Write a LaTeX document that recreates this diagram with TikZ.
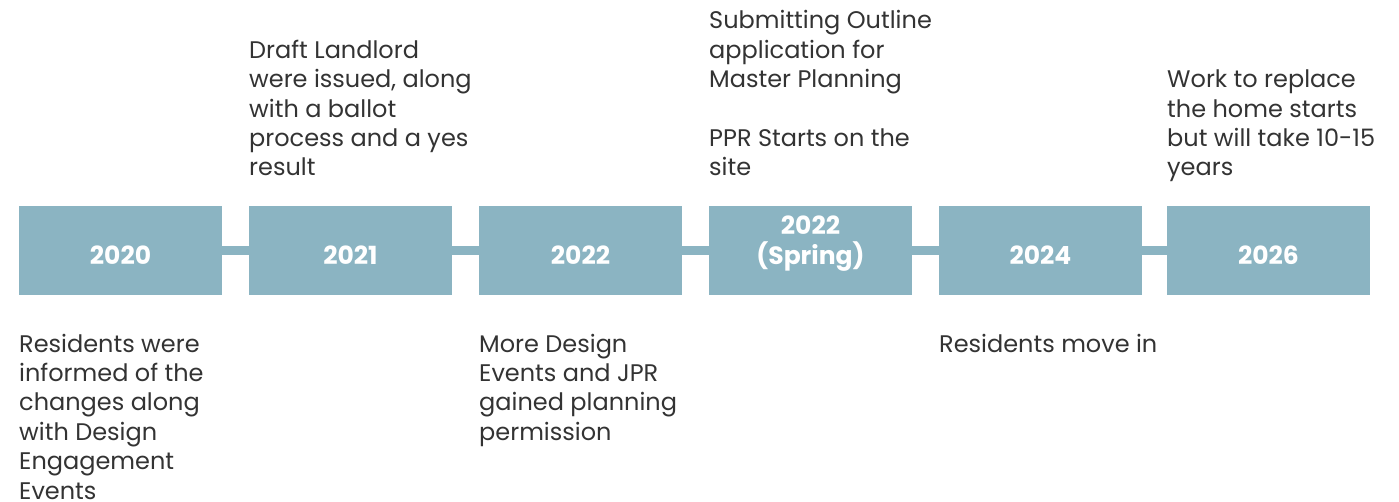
\documentclass[tikz,border=0pt]{standalone}
\usepackage{fontspec}
\setmainfont{Poppins}
\usetikzlibrary{positioning}

\definecolor{steelblue}{HTML}{8BB4C2}
\definecolor{bodytext}{HTML}{333333}

\begin{document}
\begin{tikzpicture}[x=1pt, y=-1pt,
    yearbox/.style={fill=steelblue, minimum width=203pt, minimum height=89pt,
        inner sep=0pt, outer sep=0pt, text=white, align=center,
        text height=27pt, text depth=0pt,
        font=\fontsize{25}{29.4}\selectfont\bfseries},
    note/.style={anchor=south west, inner sep=0pt, align=left, text=bodytext,
        text depth=0pt, font=\fontsize{24}{29.4}\selectfont},
    link/.style={draw=steelblue, line width=9pt}]
    \useasboundingbox (0,0) rectangle (1399,501);

    % year boxes along the line
    \node[yearbox] (y2020) at (120.5,250.5) {2020};
    \node[yearbox, right=27pt of y2020] (y2021) {2021};
    \node[yearbox, right=27pt of y2021] (y2022) {2022};
    \node[yearbox, right=27pt of y2022] (y2022s) {2022\\(Spring)};
    \node[yearbox, right=27pt of y2022s] (y2024) {2024};
    \node[yearbox, right=25pt of y2024] (y2026) {2026};

    % bars joining the boxes
    \draw[link] (y2020) -- (y2021);
    \draw[link] (y2021) -- (y2022);
    \draw[link] (y2022) -- (y2022s);
    \draw[link] (y2022s) -- (y2024);
    \draw[link] (y2024) -- (y2026);

    % notes above (last baseline sits on y=176)
    \node[note] (n2021) at (249,176)
        {Draft Landlord\\were issued, along\\with a ballot\\process and a yes\\result};
    \node[note] (n2022s) at (709,176)
        {Submitting Outline\\application for\\Master Planning\\[29.4pt]PPR Starts on the\\site};
    \node[note] (n2026) at (1167,176)
        {Work to replace\\the home starts\\but will take 10-15\\years};

    % notes below (first baseline at y=352)
    \node[note] (n2020) at (19,499.3)
        {Residents were\\informed of the\\changes along\\with Design\\Engagement\\Events};
    \node[note] (n2022) at (479,440.5)
        {More Design\\Events and JPR\\gained planning\\permission};
    \node[note] (n2024) at (939,352.3)
        {Residents move in};
\end{tikzpicture}
\end{document}
